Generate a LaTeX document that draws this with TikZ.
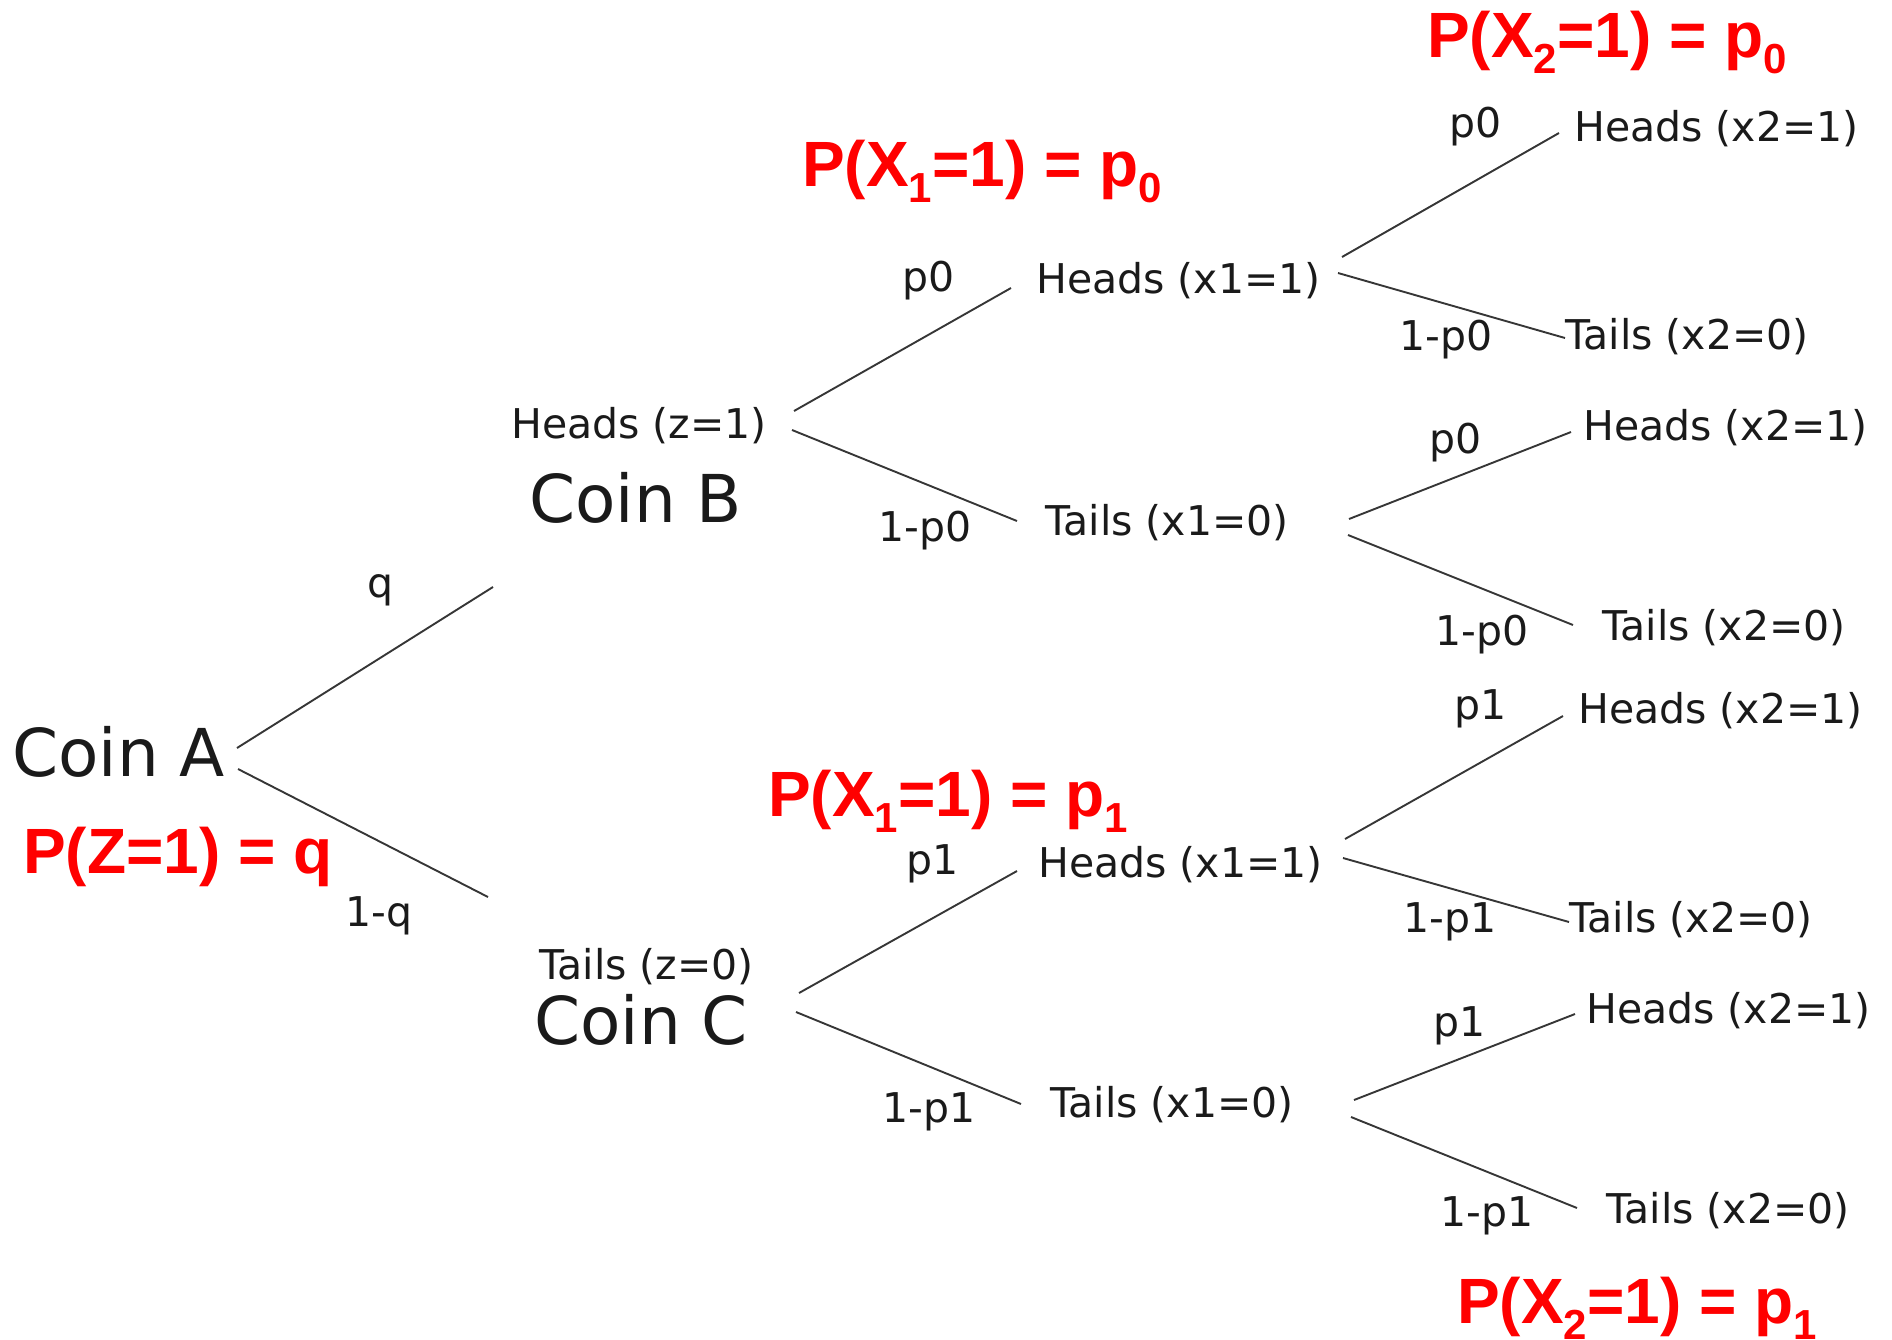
\documentclass[tikz,border=0pt]{standalone}
\usepackage{fontspec}
\newfontfamily\treefont{DejaVu Sans}
\newfontfamily\notefont{Liberation Sans}
\definecolor{ink}{HTML}{1A1A1A}
\definecolor{branch}{HTML}{363636}
\definecolor{notered}{HTML}{FF0000}
% lowered, smaller index inside the red notes
\newcommand{\idx}[1]{\raisebox{-0.25em}{\fontsize{42}{42}\selectfont #1}}
\tikzset{
  outcome/.style={inner sep=0pt, anchor=base west, text=ink,
    font=\treefont\fontsize{41}{49}\selectfont},
  coin/.style={inner sep=0pt, anchor=base west, text=ink,
    font=\treefont\fontsize{66}{79}\selectfont},
  prob/.style={inner sep=0pt, anchor=center, text=ink,
    font=\treefont\fontsize{41}{49}\selectfont},
  note/.style={inner sep=0pt, anchor=base west, text=notered,
    font=\notefont\bfseries\fontsize{64}{76}\selectfont},
  branchline/.style={draw=branch, line width=1.9pt}
}
\begin{document}
\begin{tikzpicture}[x=1pt, y=-1pt]
\useasboundingbox (0,0) rectangle (1892,1339);

% ---- first level: Coin A ----
\node[coin] (coinA) at (12,776) {Coin A};
\node[note] (pz) at (23,873) {P(Z=1) = q};
\coordinate (a-up) at (237,748);  \coordinate (a-upend) at (493,587);
\coordinate (a-dn) at (238,769);  \coordinate (a-dnend) at (488,897);
\draw[branchline] (a-up) -- (a-upend);
\draw[branchline] (a-dn) -- (a-dnend);
\node[prob] (lq)  at (381,590) {q};
\node[prob] (lnq) at (379,916) {1-q};

% ---- Coin B branch ----
\node[outcome] (hz) at (511,438) {Heads (z=1)};
\node[coin] (coinB) at (529,522) {Coin B};
\node[note] (px1a) at (802,186) {P(X\idx{1}=1) = p\idx{0}};
\coordinate (b-up) at (794,411);  \coordinate (b-upend) at (1011,288);
\coordinate (b-dn) at (792,430);  \coordinate (b-dnend) at (1017,521);
\draw[branchline] (b-up) -- (b-upend);
\draw[branchline] (b-dn) -- (b-dnend);
\node[prob] (lb1) at (929,281) {p0};
\node[prob] (lb2) at (925,531) {1-p0};
\node[outcome] (bh) at (1036,293) {Heads (x1=1)};
\node[outcome] (bt) at (1045,535) {Tails (x1=0)};

\node[note] (px2a) at (1427,57) {P(X\idx{2}=1) = p\idx{0}};
\coordinate (bh-up) at (1342,257); \coordinate (bh-upend) at (1559,133);
\coordinate (bh-dn) at (1338,273); \coordinate (bh-dnend) at (1565,338);
\draw[branchline] (bh-up) -- (bh-upend);
\draw[branchline] (bh-dn) -- (bh-dnend);
\node[prob] (lbh1) at (1476,127) {p0};
\node[prob] (lbh2) at (1446,340) {1-p0};
\node[outcome] (bhh) at (1574,141) {Heads (x2=1)};
\node[outcome] (bht) at (1565,349) {Tails (x2=0)};

\coordinate (bt-up) at (1349,519); \coordinate (bt-upend) at (1571,432);
\coordinate (bt-dn) at (1348,535); \coordinate (bt-dnend) at (1573,625);
\draw[branchline] (bt-up) -- (bt-upend);
\draw[branchline] (bt-dn) -- (bt-dnend);
\node[prob] (lbt1) at (1456,443) {p0};
\node[prob] (lbt2) at (1482,635) {1-p0};
\node[outcome] (bth) at (1583,440) {Heads (x2=1)};
\node[outcome] (btt) at (1602,640) {Tails (x2=0)};

% ---- Coin C branch ----
\node[outcome] (tz) at (539,979) {Tails (z=0)};
\node[coin] (coinC) at (534,1044) {Coin C};
\node[note] (px1b) at (768,816) {P(X\idx{1}=1) = p\idx{1}};
\coordinate (c-up) at (799,993);  \coordinate (c-upend) at (1017,871);
\coordinate (c-dn) at (796,1012); \coordinate (c-dnend) at (1021,1104);
\draw[branchline] (c-up) -- (c-upend);
\draw[branchline] (c-dn) -- (c-dnend);
\node[prob] (lc1) at (933,864) {p1};
\node[prob] (lc2) at (929,1112) {1-p1};
\node[outcome] (ch) at (1038,877) {Heads (x1=1)};
\node[outcome] (ct) at (1050,1117) {Tails (x1=0)};

\coordinate (ch-up) at (1345,839); \coordinate (ch-upend) at (1563,716);
\coordinate (ch-dn) at (1343,858); \coordinate (ch-dnend) at (1569,922);
\draw[branchline] (ch-up) -- (ch-upend);
\draw[branchline] (ch-dn) -- (ch-dnend);
\node[prob] (lch1) at (1481,709) {p1};
\node[prob] (lch2) at (1450,922) {1-p1};
\node[outcome] (chh) at (1578,723) {Heads (x2=1)};
\node[outcome] (cht) at (1569,932) {Tails (x2=0)};

\coordinate (ct-up) at (1354,1100); \coordinate (ct-upend) at (1575,1014);
\coordinate (ct-dn) at (1351,1117); \coordinate (ct-dnend) at (1577,1208);
\draw[branchline] (ct-up) -- (ct-upend);
\draw[branchline] (ct-dn) -- (ct-dnend);
\node[prob] (lct1) at (1460,1026) {p1};
\node[prob] (lct2) at (1487,1216) {1-p1};
\node[outcome] (cth) at (1586,1023) {Heads (x2=1)};
\node[outcome] (ctt) at (1606,1223) {Tails (x2=0)};
\node[note] (px2b) at (1457,1323) {P(X\idx{2}=1) = p\idx{1}};
\end{tikzpicture}
\end{document}
